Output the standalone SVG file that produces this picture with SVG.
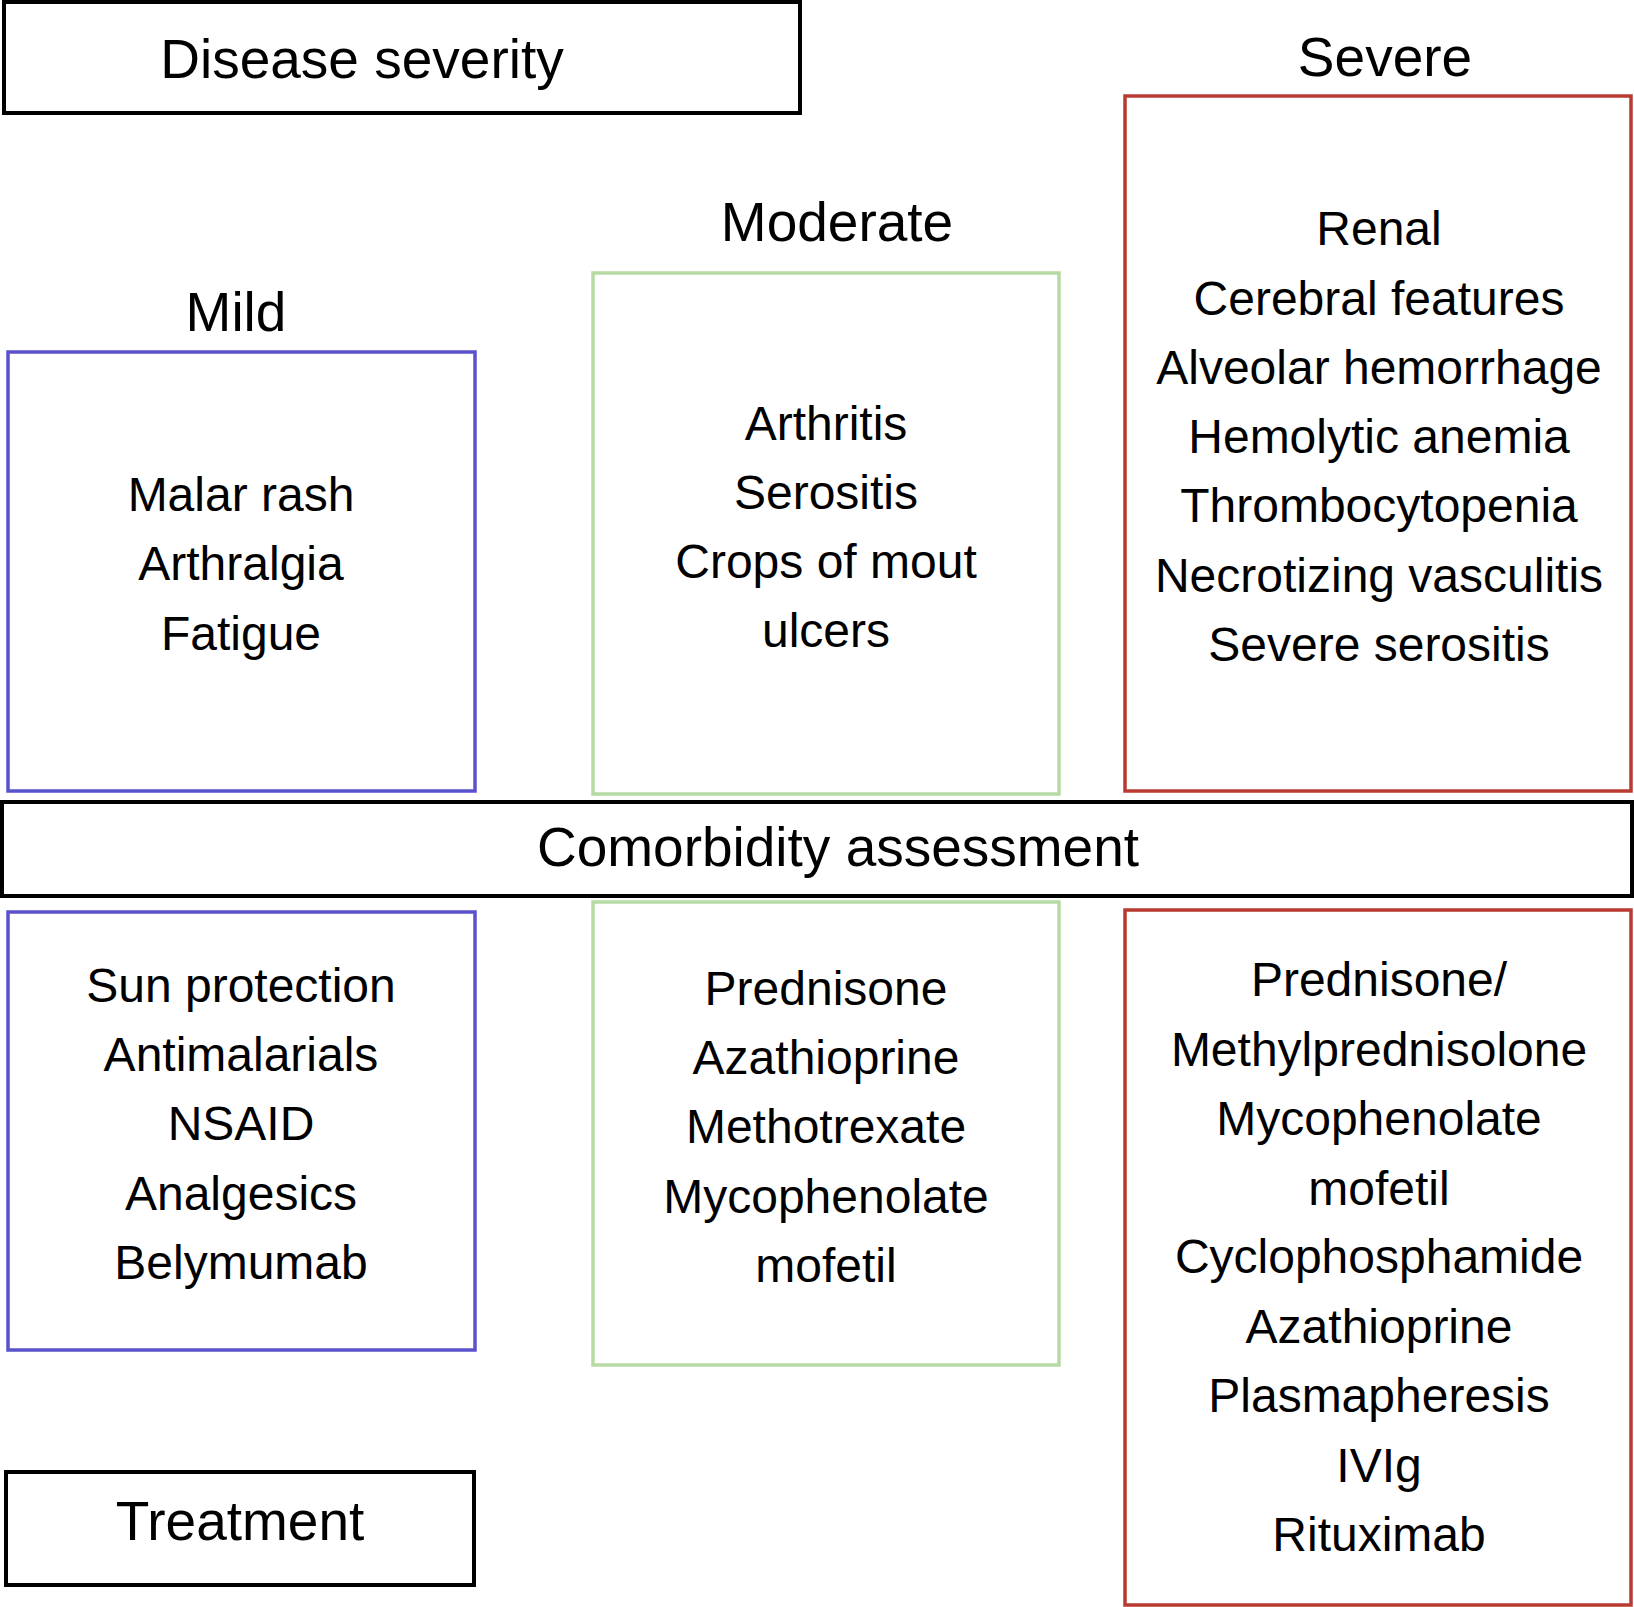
<svg xmlns="http://www.w3.org/2000/svg" width="1634" height="1607" viewBox="0 0 1634 1607">
<style>
.box{fill:#fff;stroke-width:3.5}
.blk{stroke:#000;stroke-width:4}
.blue{stroke:#5a52cc}
.green{stroke:#b7d9a3}
.red{stroke:#b83a30}
text{font-family:"Liberation Sans",Arial,sans-serif;fill:#000;text-anchor:middle}
.h{font-size:55px}
.b{font-size:48px}
</style>
<rect width="1634" height="1607" fill="#fff"/>
<g id="disease-severity"><rect class="box blk" x="4" y="2" width="796" height="111"/><text class="h" x="362" y="78">Disease severity</text></g>
<g id="mild-label"><text class="h" x="236" y="331">Mild</text></g>
<g id="moderate-label"><text class="h" x="837" y="241">Moderate</text></g>
<g id="severe-label"><text class="h" x="1385" y="76">Severe</text></g>
<g id="mild-features"><rect class="box blue" x="8" y="352" width="467" height="439"/>
<text class="b" x="241" y="511">Malar rash</text><text class="b" x="241" y="580">Arthralgia</text><text class="b" x="241" y="650">Fatigue</text></g>
<g id="moderate-features"><rect class="box green" x="593" y="273" width="466" height="521"/>
<text class="b" x="826" y="440">Arthritis</text><text class="b" x="826" y="509">Serositis</text><text class="b" x="826" y="578">Crops of mout</text><text class="b" x="826" y="647">ulcers</text></g>
<g id="severe-features"><rect class="box red" x="1125" y="96" width="506" height="695"/>
<text class="b" x="1379" y="245">Renal</text><text class="b" x="1379" y="315">Cerebral features</text><text class="b" x="1379" y="384">Alveolar hemorrhage</text><text class="b" x="1379" y="453">Hemolytic anemia</text><text class="b" x="1379" y="522">Thrombocytopenia</text><text class="b" x="1379" y="592">Necrotizing vasculitis</text><text class="b" x="1379" y="661">Severe serositis</text></g>
<g id="comorbidity"><rect class="box blk" x="2" y="802" width="1630" height="94"/><text class="h" x="838" y="866">Comorbidity assessment</text></g>
<g id="mild-treatment"><rect class="box blue" x="8" y="912" width="467" height="438"/>
<text class="b" x="241" y="1002">Sun protection</text><text class="b" x="241" y="1071">Antimalarials</text><text class="b" x="241" y="1140">NSAID</text><text class="b" x="241" y="1210">Analgesics</text><text class="b" x="241" y="1279">Belymumab</text></g>
<g id="moderate-treatment"><rect class="box green" x="593" y="902" width="466" height="463"/>
<text class="b" x="826" y="1005">Prednisone</text><text class="b" x="826" y="1074">Azathioprine</text><text class="b" x="826" y="1143">Methotrexate</text><text class="b" x="826" y="1213">Mycophenolate</text><text class="b" x="826" y="1282">mofetil</text></g>
<g id="severe-treatment"><rect class="box red" x="1125" y="910" width="506" height="695"/>
<text class="b" x="1379" y="996">Prednisone/</text><text class="b" x="1379" y="1066">Methylprednisolone</text><text class="b" x="1379" y="1135">Mycophenolate</text><text class="b" x="1379" y="1205">mofetil</text><text class="b" x="1379" y="1273">Cyclophosphamide</text><text class="b" x="1379" y="1343">Azathioprine</text><text class="b" x="1379" y="1412">Plasmapheresis</text><text class="b" x="1379" y="1482">IVIg</text><text class="b" x="1379" y="1551">Rituximab</text></g>
<g id="treatment"><rect class="box blk" x="6" y="1472" width="468" height="113"/><text class="h" x="240" y="1540">Treatment</text></g>
<g id="connectors"></g>
</svg>
